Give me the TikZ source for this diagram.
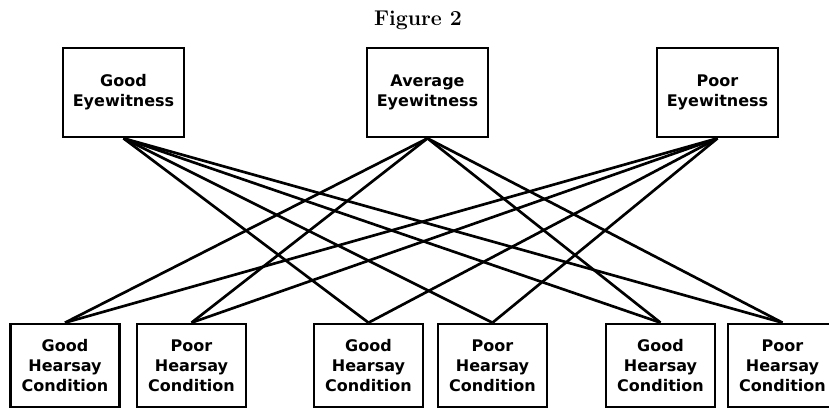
\documentclass[tikz,border=0pt]{standalone}
\usepackage{fontspec}
\setsansfont{DejaVu Sans}

\tikzset{every picture/.style={line width=2pt}}
\tikzset{
	witness/.style={draw, align=center, inner sep=0pt, minimum width=90.75pt, minimum height=66.75pt, font=\sffamily\bfseries\fontsize{12}{15}\selectfont},
	hearsay/.style={witness, minimum width=81.75pt, minimum height=62.25pt}
}

\begin{document}
\begin{tikzpicture}[x=0.75pt,y=0.75pt,yscale=-1,xscale=1]
	%set diagram to 829 x 408
	\clip (0,0) rectangle (829,408);

	% Text Node
	\node (title) at (418,20) {\bfseries\fontsize{16}{18}\selectfont Figure 2};

	%Shape: Rectangle [eyewitness row]
	\node [witness] (goodeye) at (123.5,92.5) {Good\\Eyewitness};
	\node [witness] (aveeye) at (427.5,92.5) {Average\\Eyewitness};
	\node [witness] (pooreye) at (717.5,92.5) {Poor\\Eyewitness};

	%Shape: Rectangle [hearsay row]
	\node [hearsay] (goodhs1) at (65,365.5) {Good\\Hearsay\\Condition};
	\node [hearsay] (poorhs1) at (191.5,365.5) {Poor\\Hearsay\\Condition};
	\node [hearsay] (goodhs2) at (368.5,365.5) {Good\\Hearsay\\Condition};
	\node [hearsay] (poorhs2) at (492.5,365.5) {Poor\\Hearsay\\Condition};
	\node [hearsay] (goodhs3) at (660.5,365.5) {Good\\Hearsay\\Condition};
	\node [hearsay] (poorhs3) at (782.5,365.5) {Poor\\Hearsay\\Condition};

	%Straight Lines [good eyewitness]
	\draw (goodeye.south) -- (goodhs2.north) ;
	\draw (goodeye.south) -- (poorhs2.north) ;
	\draw (goodeye.south) -- (goodhs3.north) ;
	\draw (goodeye.south) -- (poorhs3.north) ;
	%Straight Lines [average eyewitness]
	\draw (aveeye.south) -- (goodhs1.north) ;
	\draw (aveeye.south) -- (poorhs1.north) ;
	\draw (aveeye.south) -- (goodhs3.north) ;
	\draw (aveeye.south) -- (poorhs3.north) ;
	%Straight Lines [poor eyewitness]
	\draw (pooreye.south) -- (goodhs1.north) ;
	\draw (pooreye.south) -- (poorhs1.north) ;
	\draw (pooreye.south) -- (goodhs2.north) ;
	\draw (pooreye.south) -- (poorhs2.north) ;

\end{tikzpicture}
\end{document}
